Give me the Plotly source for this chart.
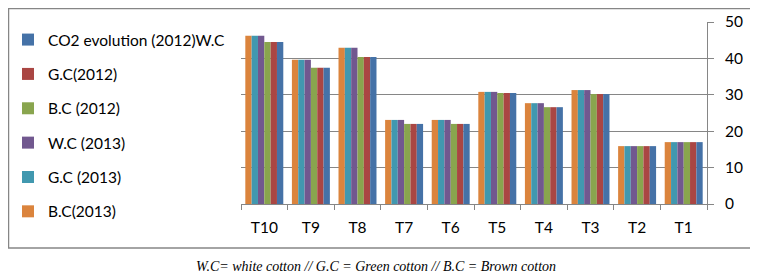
import plotly.graph_objects as go

categories = ["T10", "T9", "T8", "T7", "T6", "T5", "T4", "T3", "T2", "T1"]

# series (drawn left-to-right inside each group: B.C 2013 ... CO2 2012 W.C)
bc_2013 = [46.2, 39.6, 42.9, 23.1, 23.1, 30.8, 27.7, 31.3, 15.9, 17.0]
gc_2013 = [46.2, 39.6, 42.9, 23.1, 23.1, 30.8, 27.7, 31.3, 15.9, 17.0]
wc_2013 = [46.2, 39.6, 42.9, 23.1, 23.1, 30.8, 27.7, 31.3, 15.9, 17.0]
bc_2012 = [44.5, 37.4, 40.4, 22.0, 22.0, 30.5, 26.6, 30.2, 15.9, 17.0]
gc_2012 = [44.5, 37.4, 40.4, 22.0, 22.0, 30.5, 26.6, 30.2, 15.9, 17.0]
wc_2012 = [44.5, 37.4, 40.4, 22.0, 22.0, 30.5, 26.6, 30.2, 15.9, 17.0]

series = [
    ("B.C(2013)", bc_2013, "#DB843D"),
    ("G.C (2013)", gc_2013, "#4198AF"),
    ("W.C (2013)", wc_2013, "#71588F"),
    ("B.C (2012)", bc_2012, "#89A54E"),
    ("G.C(2012)", gc_2012, "#AA4643"),
    ("CO2 evolution (2012)W.C", wc_2012, "#4572A7"),
]

FONT = "Lato"
FS = 15.5
fig = go.Figure()
n = len(series)
for i, (name, vals, col) in enumerate(series):
    fig.add_trace(go.Bar(x=categories, y=vals, name=name, marker_color=col,
                         marker_line_width=0, legendgroup=f"g{i}",
                         legendrank=n - i))

# the page body has an 8px margin; the figure fills the rest of the window
OFF = 8
W, H = 758 - OFF, 279 - OFF

def fx(page_x):
    return (page_x - OFF) / W

def fy(page_y):
    return 1 - (page_y - OFF) / H

fig.update_layout(
    width=W, height=H,
    margin=dict(l=0, r=0, t=0, b=0, pad=0),
    paper_bgcolor="white", plot_bgcolor="white",
    barmode="group", bargap=0.185, bargroupgap=0,
    font=dict(family=FONT, size=FS, color="#000000"),
    showlegend=True,
    legend=dict(traceorder="grouped", x=fx(8), xanchor="left",
                y=fy(23), yanchor="top", tracegroupgap=11.2, maxheight=260,
                font=dict(family=FONT, size=FS, color="#000000"),
                itemwidth=30, bgcolor="rgba(0,0,0,0)"),
    xaxis=dict(domain=[fx(241), fx(707)], range=[-0.5, 9.5], automargin=False,
               showline=True, linecolor="#868686", linewidth=1,
               ticks="outside", tickson="boundaries", ticklen=5, tickcolor="#868686",
               showgrid=False, ticklabelstandoff=9,
               tickfont=dict(family=FONT, size=FS, color="#000")),
    yaxis=dict(domain=[fy(204), fy(22)], range=[0, 50], side="right", automargin=False,
               showgrid=True, gridcolor="#868686",
               gridwidth=1, showline=True, linecolor="#868686", linewidth=1,
               ticks="outside", ticklen=6, tickcolor="#868686", dtick=10,
               zeroline=False, ticklabelstandoff=8,
               tickfont=dict(family=FONT, size=FS, color="#000")),
    shapes=[dict(type="rect", xref="paper", yref="paper",
                 x0=fx(8.5), x1=fx(752), y0=fy(248), y1=fy(8.5),
                 line=dict(color="#868686", width=1.5), layer="below")],
    annotations=[dict(text="W.C= white cotton // G.C = Green cotton // B.C = Brown cotton",
                      xref="paper", yref="paper", x=fx(376), y=fy(266),
                      xanchor="center", yanchor="middle", showarrow=False,
                      font=dict(family="Liberation Serif", size=14, color="#000",
                                style="italic"))],
)

fig.write_html("out.html")
